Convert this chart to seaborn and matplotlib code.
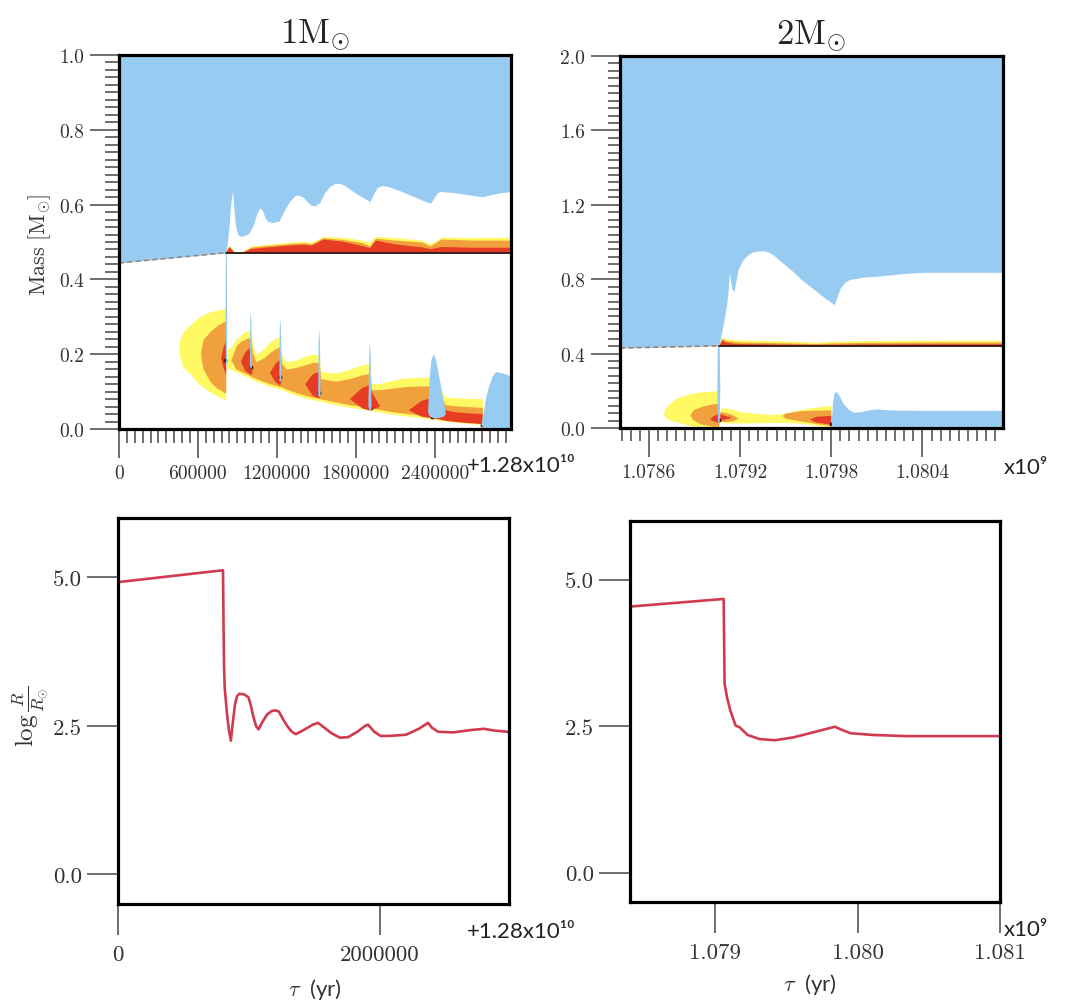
import numpy as np
import matplotlib
matplotlib.use("Agg")
import matplotlib.pyplot as plt
import seaborn as sns

sns.set_theme(style="ticks")
plt.rcParams["font.family"] = ["Lato", "DejaVu Sans"]
plt.rcParams["mathtext.fontset"] = "cm"

BLUE = "#97cbf1"
YELLOW = "#fff964"
ORANGE = "#f0a03c"
RED = "#e63c24"
DARK = "#4a0e08"
LINE = "#d13a50"
KYR = 1e3

# ---------------- 1 Msun (ages in kyr after 1.28e10 yr) ----------------
env1_t = [0, 811, 825, 840, 852, 862, 868, 875, 885, 900, 920, 940, 985, 1020, 1050, 1071,
          1090, 1110, 1130, 1170, 1217, 1250, 1290, 1330, 1360, 1400, 1440, 1462, 1490,
          1525, 1560, 1600, 1640, 1678, 1720, 1780, 1850, 1908, 1930, 1960, 1998, 2050,
          2150, 2250, 2330, 2367, 2390, 2420, 2444, 2550, 2680, 2763, 2820, 2900, 3000]
env1_m = [0.444, 0.471, 0.50, 0.56, 0.61, 0.635, 0.62, 0.58, 0.545, 0.522, 0.515, 0.516,
          0.522, 0.545, 0.578, 0.592, 0.585, 0.565, 0.555, 0.552, 0.556, 0.58, 0.605, 0.622,
          0.626, 0.62, 0.605, 0.598, 0.597, 0.605, 0.63, 0.648, 0.656, 0.657, 0.65, 0.635,
          0.62, 0.608, 0.625, 0.645, 0.651, 0.648, 0.635, 0.62, 0.608, 0.604, 0.615, 0.632,
          0.635, 0.632, 0.625, 0.621, 0.626, 0.632, 0.635]

core1_t = [811, 3000]
core1_m = [0.471, 0.471]
dash1_t = [0, 811]
dash1_m = [0.444, 0.471]

sh1_t = [811, 818, 835, 855, 875, 930, 960, 1000, 1050, 1100, 1200, 1300, 1400, 1460,
         1500, 1550, 1700, 1850, 1905, 1950, 2100, 2300, 2367, 2450, 2700, 3000]
sh1_y = [0.471, 0.481, 0.491, 0.486, 0.474, 0.473, 0.479, 0.489, 0.491, 0.493, 0.496, 0.5,
         0.502, 0.499, 0.506, 0.515, 0.513, 0.505, 0.50, 0.515, 0.512, 0.505, 0.495, 0.513,
         0.512, 0.513]
sh1_o = [0.471, 0.479, 0.489, 0.482, 0.473, 0.472, 0.478, 0.486, 0.488, 0.49, 0.493, 0.496,
         0.498, 0.495, 0.502, 0.511, 0.507, 0.498, 0.49, 0.51, 0.505, 0.50, 0.49, 0.508,
         0.505, 0.505]
sh1_r = [0.471, 0.477, 0.487, 0.48, 0.472, 0.472, 0.476, 0.482, 0.484, 0.486, 0.489, 0.492,
         0.494, 0.492, 0.498, 0.508, 0.502, 0.49, 0.485, 0.505, 0.495, 0.487, 0.482, 0.488,
         0.486, 0.486]

egg1_t = [454, 462, 480, 510, 543, 600, 620, 625, 640, 671, 696, 750, 773, 790, 811]
egg1_ylo = [0.218, 0.195, 0.17, 0.157, 0.147, 0.122, 0.117, 0.116, 0.112, 0.103, 0.098,
            0.087, 0.084, 0.080, 0.076]
egg1_yhi = [0.218, 0.24, 0.255, 0.268, 0.28, 0.297, 0.301, 0.302, 0.305, 0.311, 0.314,
            0.318, 0.320, 0.321, 0.323]
egg1_olo = [0.2, 0.2, 0.2, 0.2, 0.2, 0.2, 0.2, 0.185, 0.16, 0.14, 0.125, 0.108, 0.104,
            0.100, 0.096]
egg1_ohi = [0.2, 0.2, 0.2, 0.2, 0.2, 0.2, 0.2, 0.215, 0.24, 0.252, 0.262, 0.278, 0.282,
            0.286, 0.289]
egg1_rlo = [0.19, 0.19, 0.19, 0.19, 0.19, 0.19, 0.19, 0.19, 0.19, 0.19, 0.19, 0.19, 0.191,
            0.165, 0.147]
egg1_rhi = [0.19, 0.19, 0.19, 0.19, 0.19, 0.19, 0.19, 0.19, 0.19, 0.19, 0.19, 0.19, 0.191,
            0.22, 0.236]

band1_t = [815, 850, 890, 926, 960, 990, 1003, 1015, 1040, 1100, 1148, 1190, 1220, 1227,
           1237, 1270, 1350, 1416, 1470, 1510, 1523, 1533, 1570, 1650, 1755, 1850, 1900,
           1908, 1920, 1985, 2050, 2150, 2202, 2300, 2355, 2400, 2482, 2550, 2650, 2763]
band1_lo = [0.165, 0.160, 0.153, 0.147, 0.142, 0.137, 0.134, 0.132, 0.128, 0.120, 0.114,
            0.110, 0.107, 0.106, 0.105, 0.100, 0.090, 0.083, 0.078, 0.076, 0.075, 0.074,
            0.071, 0.065, 0.058, 0.053, 0.050, 0.050, 0.049, 0.045, 0.041, 0.036, 0.034,
            0.030, 0.027, 0.025, 0.021, 0.018, 0.015, 0.012]
band1_hi = [0.212, 0.218, 0.24, 0.252, 0.26, 0.265, 0.262, 0.225, 0.200, 0.215, 0.232,
            0.243, 0.245, 0.240, 0.195, 0.180, 0.185, 0.195, 0.200, 0.200, 0.195, 0.155,
            0.152, 0.150, 0.160, 0.172, 0.175, 0.170, 0.121, 0.122, 0.128, 0.135, 0.137,
            0.138, 0.138, 0.130, 0.085, 0.084, 0.082, 0.081]
band1_olo = [0.19, 0.185, 0.160, 0.154, 0.149, 0.144, 0.141, 0.139, 0.135, 0.127, 0.121,
             0.117, 0.114, 0.113, 0.112, 0.107, 0.097, 0.090, 0.085, 0.083, 0.082, 0.081,
             0.078, 0.072, 0.065, 0.060, 0.057, 0.057, 0.056, 0.052, 0.048, 0.043, 0.041,
             0.037, 0.034, 0.032, 0.028, 0.025, 0.022, 0.019]
band1_ohi = [0.19, 0.185, 0.222, 0.235, 0.24, 0.245, 0.24, 0.205, 0.18, 0.19, 0.205, 0.215,
             0.22, 0.215, 0.175, 0.16, 0.165, 0.172, 0.178, 0.178, 0.172, 0.135, 0.132,
             0.128, 0.135, 0.145, 0.148, 0.145, 0.105, 0.105, 0.108, 0.112, 0.114, 0.115,
             0.115, 0.11, 0.065, 0.062, 0.06, 0.058]
band1_rlo = [0.18, 0.175, 0.17, 0.18, 0.155, 0.148, 0.145, 0.15, 0.13, 0.12, 0.15, 0.125,
             0.118, 0.117, 0.13, 0.12, 0.11, 0.12, 0.09, 0.083, 0.082, 0.10, 0.09, 0.08,
             0.08, 0.055, 0.05, 0.05, 0.05, 0.06, 0.06, 0.05, 0.05, 0.033, 0.03, 0.028,
             0.022, 0.019, 0.016, 0.013]
band1_rhi = [0.18, 0.175, 0.17, 0.18, 0.205, 0.215, 0.218, 0.15, 0.13, 0.12, 0.15, 0.175,
             0.184, 0.18, 0.13, 0.12, 0.11, 0.12, 0.145, 0.152, 0.148, 0.10, 0.09, 0.08,
             0.08, 0.11, 0.117, 0.115, 0.10, 0.06, 0.06, 0.05, 0.05, 0.075, 0.081, 0.08,
             0.05, 0.045, 0.042, 0.04]

dark1_t = [808, 1000, 1224, 1520, 1905, 2380, 2760]
dark1_m = [0.185, 0.165, 0.14, 0.095, 0.055, 0.033, 0.012]

spk1_t = [810, 812, 820, 822, 995, 998, 1001, 1007, 1010, 1219, 1222, 1226, 1232, 1235,
          1514, 1518, 1522, 1528, 1532, 1896, 1901, 1906, 1913, 1920, 2350, 2360, 2375,
          2393, 2410, 2440, 2470, 2485, 2755, 2770, 2790, 2810, 2840, 2865, 2900, 2950, 3000]
spk1_lo = [0.3, 0.17, 0.17, 0.3, 0.17, 0.165, 0.162, 0.16, 0.165, 0.13, 0.128, 0.127,
           0.127, 0.13, 0.09, 0.088, 0.087, 0.087, 0.09, 0.06, 0.052, 0.048, 0.048, 0.055,
           0.045, 0.035, 0.031, 0.029, 0.029, 0.03, 0.033, 0.04, 0.01, 0.004, 0.002, 0.0,
           0.0, 0.0, 0.0, 0.0, 0.0]
spk1_hi = [0.3, 0.47, 0.47, 0.3, 0.17, 0.29, 0.317, 0.28, 0.165, 0.13, 0.27, 0.298, 0.26,
           0.13, 0.09, 0.24, 0.269, 0.23, 0.09, 0.06, 0.18, 0.236, 0.2, 0.055, 0.045, 0.13,
           0.185, 0.2, 0.185, 0.13, 0.07, 0.04, 0.01, 0.04, 0.08, 0.11, 0.14, 0.152, 0.15,
           0.145, 0.138]

r1_t = [0, 803, 807, 811, 816, 834, 850, 863, 875, 894, 910, 928, 965, 998, 1015, 1031,
        1055, 1075, 1100, 1140, 1175, 1205, 1230, 1265, 1296, 1330, 1360, 1420, 1490, 1529,
        1560, 1630, 1697, 1760, 1830, 1890, 1912, 1960, 2008, 2073, 2202, 2300, 2371, 2400,
        2448, 2564, 2700, 2798, 2880, 2980]
r1_R = [4.92, 5.12, 4.2, 3.5, 3.14, 2.69, 2.4, 2.25, 2.5, 2.85, 3.0, 3.04, 3.03, 2.98,
        2.85, 2.69, 2.5, 2.44, 2.55, 2.69, 2.75, 2.76, 2.74, 2.6, 2.49, 2.4, 2.36, 2.43,
        2.52, 2.55, 2.5, 2.38, 2.30, 2.31, 2.4, 2.5, 2.52, 2.4, 2.33, 2.33, 2.35, 2.45,
        2.55, 2.47, 2.40, 2.39, 2.43, 2.45, 2.42, 2.40]

# ---------------- 2 Msun (ages in Gyr) ----------------
env2_t = [1.07841, 1.07906, 1.079067, 1.07909, 1.07911, 1.07912, 1.07913, 1.079145,
          1.07916, 1.079175, 1.079187, 1.07922, 1.07925, 1.07928, 1.07931, 1.07935,
          1.07938, 1.07942, 1.07948, 1.07955, 1.0796, 1.07966, 1.07974, 1.0798, 1.07982,
          1.07984, 1.07986, 1.07989, 1.07992, 1.08, 1.0801, 1.0803, 1.08042, 1.08093]
env2_m = [0.430, 0.442, 0.465, 0.564, 0.654, 0.72, 0.837, 0.75, 0.735, 0.80, 0.852, 0.906,
          0.93, 0.945, 0.951, 0.953, 0.948, 0.93, 0.888, 0.84, 0.80, 0.762, 0.71, 0.675,
          0.663, 0.71, 0.753, 0.785, 0.798, 0.81, 0.816, 0.832, 0.837, 0.837]

core2_t = [1.07906, 1.08093]
core2_m = [0.442, 0.442]
dash2_t = [1.07841, 1.07906]
dash2_m = [0.430, 0.442]

sh2_t = [1.07906, 1.07908, 1.0791, 1.07915, 1.0792, 1.0795, 1.0797, 1.0798, 1.0800,
         1.0805, 1.08093]
sh2_y = [0.442, 0.49, 0.48, 0.476, 0.474, 0.468, 0.462, 0.466, 0.47, 0.472, 0.472]
sh2_o = [0.442, 0.482, 0.472, 0.466, 0.462, 0.458, 0.454, 0.457, 0.46, 0.462, 0.462]
sh2_r = [0.442, 0.475, 0.462, 0.456, 0.454, 0.451, 0.449, 0.45, 0.452, 0.453, 0.453]

egg2_t = [1.078694, 1.07871, 1.07874, 1.07878, 1.07885, 1.07887, 1.07889, 1.07894, 1.079,
          1.07902, 1.07906]
egg2_ylo = [0.079, 0.055, 0.042, 0.034, 0.018, 0.014, 0.01, 0.006, 0.003, 0.002, 0.0]
egg2_yhi = [0.079, 0.11, 0.135, 0.16, 0.18, 0.184, 0.187, 0.194, 0.198, 0.199, 0.201]
egg2_olo = [0.07, 0.07, 0.07, 0.07, 0.07, 0.07, 0.045, 0.022, 0.013, 0.011, 0.01]
egg2_ohi = [0.07, 0.07, 0.07, 0.07, 0.07, 0.07, 0.097, 0.115, 0.128, 0.13, 0.133]
egg2_rlo = [0.05, 0.05, 0.05, 0.05, 0.05, 0.05, 0.05, 0.05, 0.05, 0.04, 0.03]
egg2_rhi = [0.05, 0.05, 0.05, 0.05, 0.05, 0.05, 0.05, 0.05, 0.05, 0.065, 0.08]

band2_t = [1.07907, 1.0791, 1.07915, 1.07919, 1.0792, 1.0793, 1.0794, 1.07948, 1.0795,
           1.0796, 1.07966, 1.0797, 1.07975, 1.0798]
band2_lo = [0.03, 0.028, 0.027, 0.027, 0.027, 0.028, 0.03, 0.03, 0.03, 0.025, 0.02, 0.015,
            0.01, 0.006]
band2_hi = [0.11, 0.108, 0.1, 0.092, 0.088, 0.08, 0.072, 0.078, 0.08, 0.1, 0.108, 0.112,
            0.118, 0.12]
band2_olo = [0.035, 0.032, 0.035, 0.05, 0.05, 0.05, 0.065, 0.065, 0.05, 0.035, 0.028, 0.022,
             0.016, 0.012]
band2_ohi = [0.085, 0.082, 0.07, 0.05, 0.05, 0.05, 0.065, 0.065, 0.078, 0.09, 0.092, 0.093,
             0.094, 0.094]
band2_rlo = [0.04, 0.045, 0.055, 0.055, 0.055, 0.05, 0.05, 0.05, 0.05, 0.045, 0.045, 0.03,
             0.024, 0.018]
band2_rhi = [0.075, 0.065, 0.055, 0.055, 0.055, 0.05, 0.05, 0.05, 0.05, 0.045, 0.045, 0.06,
             0.063, 0.065]

dark2_t = [1.079063, 1.0798]
dark2_m = [0.045, 0.02]

spk2_t = [1.079050, 1.079054, 1.079066, 1.07907, 1.079803, 1.07981, 1.07982, 1.07983,
          1.07985, 1.07988, 1.07992, 1.07995, 1.0800, 1.08005, 1.0801, 1.0802, 1.0804,
          1.08093]
spk2_lo = [0.2, 0.03, 0.03, 0.2, 0.01, 0.008, 0.006, 0.005, 0.005, 0.005, 0.005, 0.005,
           0.005, 0.003, 0.0, 0.0, 0.0, 0.0]
spk2_hi = [0.2, 0.44, 0.44, 0.2, 0.01, 0.12, 0.18, 0.196, 0.18, 0.13, 0.095, 0.082, 0.085,
           0.095, 0.1, 0.094, 0.092, 0.092]

r2_t = [1.0784, 1.079058, 1.079061, 1.079065, 1.079082, 1.079106, 1.079142, 1.079171,
        1.079226, 1.07931, 1.079419, 1.079551, 1.079696, 1.07984, 1.079876, 1.079948,
        1.080105, 1.080345, 1.081]
r2_R = [4.54, 4.67, 4.0, 3.22, 2.99, 2.76, 2.51, 2.48, 2.35, 2.28, 2.26, 2.31, 2.40, 2.49,
        2.45, 2.38, 2.35, 2.33, 2.33]

# ticks
tl_xticks = [0, 600000, 1200000, 1800000, 2400000]
tl_xlabels = ["0", "600000", "1200000", "1800000", "2400000"]
tl_yticks = [0.0, 0.2, 0.4, 0.6, 0.8, 1.0]
tl_ylabels = ["0.0", "0.2", "0.4", "0.6", "0.8", "1.0"]
tr_xticks = [1.0786, 1.0792, 1.0798, 1.0804]
tr_xlabels = ["1.0786", "1.0792", "1.0798", "1.0804"]
tr_yticks = [0.0, 0.4, 0.8, 1.2, 1.6, 2.0]
tr_ylabels = ["0.0", "0.4", "0.8", "1.2", "1.6", "2.0"]
bl_xticks = [0, 2000000]
bl_xlabels = ["0", "2000000"]
br_xticks = [1.079, 1.080, 1.081]
br_xlabels = ["1.079", "1.080", "1.081"]
r_yticks = [0.0, 2.5, 5.0]
r_ylabels = ["0.0", "2.5", "5.0"]

W, H = 1068, 1004
fig = plt.figure(figsize=(W / 100, H / 100), dpi=100, facecolor="white")


def box(x0, y0, x1, y1):
    return fig.add_axes([x0 / W, 1 - y1 / H, (x1 - x0) / W, (y1 - y0) / H])


def frame(ax, maj, mino, lab):
    for s in ax.spines.values():
        s.set_linewidth(2.3)
        s.set_color("black")
        s.set_zorder(6)
    ax.set_facecolor("white")
    ax.tick_params(which="major", direction="out", length=maj, width=1.2, color="#555555",
                   labelcolor="#333333", labelsize=lab, pad=4)
    ax.tick_params(which="minor", direction="out", length=mino, width=1.2, color="#555555")


def zone(ax, t, lo, hi, color, scale=1.0, z=1):
    t = np.asarray(t, float) * scale
    lo = np.asarray(lo, float)
    hi = np.asarray(hi, float)
    ax.fill_between(t, lo, hi, where=hi > lo, interpolate=True, color=color, lw=0, zorder=z)


# ---------- top left ----------
ax = box(119, 56, 511, 430)
zone(ax, env1_t, env1_m, np.ones(len(env1_m)), BLUE, KYR)
zone(ax, sh1_t, np.full(len(sh1_t), 0.471), sh1_y, YELLOW, KYR, 2)
zone(ax, sh1_t, np.full(len(sh1_t), 0.471), sh1_o, ORANGE, KYR, 2)
zone(ax, sh1_t, np.full(len(sh1_t), 0.471), sh1_r, RED, KYR, 2)
zone(ax, egg1_t, egg1_ylo, egg1_yhi, YELLOW, KYR, 2)
zone(ax, egg1_t, egg1_olo, egg1_ohi, ORANGE, KYR, 2)
zone(ax, egg1_t, egg1_rlo, egg1_rhi, RED, KYR, 2)
zone(ax, band1_t, band1_lo, band1_hi, YELLOW, KYR, 2)
zone(ax, band1_t, band1_olo, band1_ohi, ORANGE, KYR, 2)
zone(ax, band1_t, band1_rlo, band1_rhi, RED, KYR, 2)
ax.scatter(np.asarray(dark1_t) * KYR, dark1_m, s=8, color=DARK, lw=0, zorder=3)
zone(ax, spk1_t, spk1_lo, spk1_hi, BLUE, KYR, 4)
sns.lineplot(x=np.asarray(core1_t) * KYR, y=core1_m, ax=ax, color="#2b1a1a", lw=1.3, zorder=5)
sns.lineplot(x=np.asarray(dash1_t) * KYR, y=dash1_m, ax=ax, color="#9a877c", lw=1.2,
             zorder=5).lines[-1].set_dashes([3, 2])
frame(ax, 21, 10, 14)
ax.set_xlim(0, 2.98e6)
ax.set_ylim(0, 1)
ax.set_xticks(tl_xticks, labels=tl_xlabels, fontfamily="cmr10", fontsize=14)
ax.set_xticks(np.arange(0, 2.98e6, 60000), minor=True)
ax.set_yticks(tl_yticks, labels=tl_ylabels, fontfamily="cmr10", fontsize=14)
ax.set_yticks(np.arange(0, 1.001, 0.02), minor=True)
ax.set_title(r"$1\mathrm{M}_{\odot}$", fontsize=25, pad=9)

# ---------- top right ----------
ax = box(620, 57, 1003, 429)
zone(ax, env2_t, env2_m, np.full(len(env2_m), 2.0), BLUE)
zone(ax, sh2_t, np.full(len(sh2_t), 0.442), sh2_y, YELLOW, 1.0, 2)
zone(ax, sh2_t, np.full(len(sh2_t), 0.442), sh2_o, ORANGE, 1.0, 2)
zone(ax, sh2_t, np.full(len(sh2_t), 0.442), sh2_r, RED, 1.0, 2)
zone(ax, egg2_t, egg2_ylo, egg2_yhi, YELLOW, 1.0, 2)
zone(ax, egg2_t, egg2_olo, egg2_ohi, ORANGE, 1.0, 2)
zone(ax, egg2_t, egg2_rlo, egg2_rhi, RED, 1.0, 2)
zone(ax, band2_t, band2_lo, band2_hi, YELLOW, 1.0, 2)
zone(ax, band2_t, band2_olo, band2_ohi, ORANGE, 1.0, 2)
zone(ax, band2_t, band2_rlo, band2_rhi, RED, 1.0, 2)
ax.scatter(dark2_t, dark2_m, s=8, color=DARK, lw=0, zorder=3)
zone(ax, spk2_t, spk2_lo, spk2_hi, BLUE, 1.0, 4)
sns.lineplot(x=core2_t, y=core2_m, ax=ax, color="#2b1a1a", lw=1.3, zorder=5)
sns.lineplot(x=dash2_t, y=dash2_m, ax=ax, color="#a0806e", lw=1.2,
             zorder=5).lines[-1].set_dashes([3, 2])
frame(ax, 21, 9, 14)
ax.set_xlim(1.07841, 1.08093)
ax.set_ylim(0, 2)
ax.set_xticks(tr_xticks, labels=tr_xlabels, fontfamily="cmr10", fontsize=14)
ax.set_xticks(np.arange(1.07842, 1.08093, 0.00006), minor=True)
ax.set_yticks(tr_yticks, labels=tr_ylabels, fontfamily="cmr10", fontsize=14)
ax.set_yticks(np.arange(0, 2.001, 0.04), minor=True)
ax.set_title(r"$2\mathrm{M}_{\odot}$", fontsize=25, pad=9)

# ---------- bottom left ----------
ax = box(118, 519, 509, 905)
sns.lineplot(x=np.asarray(r1_t) * KYR, y=r1_R, ax=ax, color=LINE, lw=1.9)
frame(ax, 22, 0, 16.5)
ax.tick_params(axis="x", pad=7)
ax.set_xlim(0, 2.99e6)
ax.set_ylim(-0.5, 6.0)
ax.set_xticks(bl_xticks, labels=bl_xlabels, fontfamily="cmr10", fontsize=16.5)
ax.set_yticks(r_yticks, labels=r_ylabels, fontfamily="cmr10", fontsize=16.5)
ax.set_xlabel("")
ax.set_ylabel("")

# ---------- bottom right ----------
ax = box(630, 522, 1000, 903)
sns.lineplot(x=r2_t, y=r2_R, ax=ax, color=LINE, lw=1.9)
frame(ax, 22, 0, 16.5)
ax.tick_params(axis="x", pad=7)
ax.set_xlim(1.0784, 1.0810001)
ax.set_ylim(-0.5, 6.0)
ax.set_xticks(br_xticks, labels=br_xlabels, fontfamily="cmr10", fontsize=16.5)
ax.set_yticks(r_yticks, labels=r_ylabels, fontfamily="cmr10", fontsize=16.5)
ax.set_xlabel("")
ax.set_ylabel("")

# ---------- figure texts ----------
def ftext(x, y, s, **kw):
    fig.text(x / W, 1 - y / H, s, **kw)


ftext(40, 245, r"$\mathrm{Mass\ [M_{\odot}]}$", rotation=90, ha="center", va="center",
      fontsize=16, color="#333333")
ftext(30, 716, r"$\log\frac{R}{R_{\odot}}$", rotation=90, ha="center", va="center",
      fontsize=18, color="#333333")
ftext(467, 466, "+1.28x10¹⁰", ha="left", va="center", fontsize=16, color="#222222")
ftext(467, 932, "+1.28x10¹⁰", ha="left", va="center", fontsize=16, color="#222222")
ftext(1004, 468, "x10⁹", ha="left", va="center", fontsize=16, color="#222222")
ftext(1004, 930, "x10⁹", ha="left", va="center", fontsize=16, color="#222222")
ftext(315, 990, r"$\tau$  (yr)", ha="center", va="center", fontsize=16, color="#333333")
ftext(810, 985, r"$\tau$  (yr)", ha="center", va="center", fontsize=16, color="#333333")

fig.savefig("out.png", dpi=100, facecolor="white")
